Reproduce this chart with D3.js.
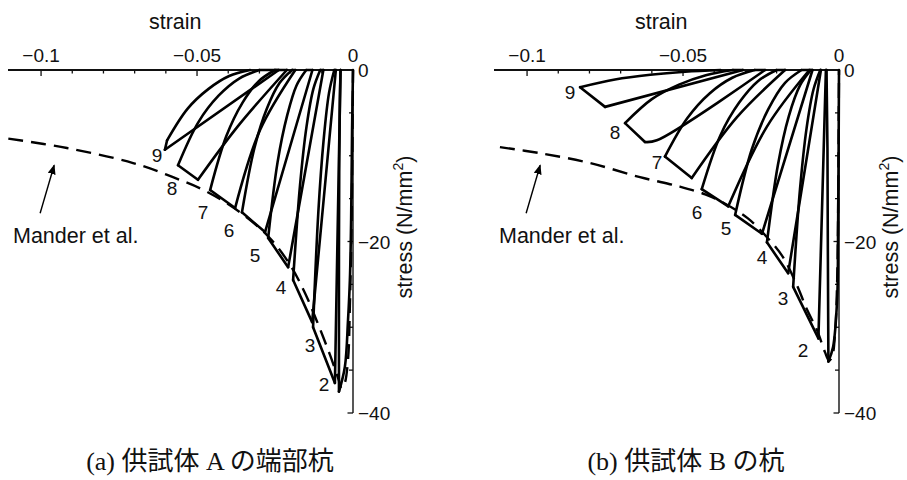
<!DOCTYPE html>
<html>
<head>
<meta charset="utf-8">
<script src="https://cdn.jsdelivr.net/npm/d3@7"></script>
<style>
  body { margin: 0; background: #fff; }
  svg { display: block; }
  text { fill: #111; }
</style>
</head>
<body>
<svg id="chart" width="907" height="480"></svg>
<script>
// ---------- axis ticks ----------
const strainMajor = [-0.1, -0.05, 0];
const strainMajorText = ["\u22120.1", "\u22120.05", "0"];
const strainMinor = [-0.09, -0.08, -0.07, -0.06, -0.04, -0.03, -0.02, -0.01];
const stressMajor = [0, -20, -40];
const stressMajorText = ["0", "\u221220", "\u221240"];
const stressMinor = [-5, -10, -15, -25, -30, -35];
const cycleNumbers = ["2", "3", "4", "5", "6", "7", "8", "9"];
const captions = ["(a) 供試体 A の端部杭", "(b) 供試体 B の杭"];

// ---------- specimen A (end pile) ----------
// Mander et al. confined-concrete model, [strain, stress N/mm2]
const manderA = [[-0.1105,-8.0],[-0.0917,-9.1],[-0.0705,-10.85],[-0.0577,-12.5],[-0.0468,-14.2],
  [-0.0362,-16.6],[-0.0272,-19.4],[-0.0202,-22.7],[-0.0154,-26.0],[-0.0119,-29.0],[-0.0074,-33.2],
  [-0.0048,-35.9],[-0.0036,-37.1],[-0.0027,-36.6],[-0.0016,-33.8],[-0.0010,-27.5],[-0.0004,-16.0],[0,0]];
// first loading up to the first unloading point
const firstLoadA = [[0,0],[-0.0003,-7.0],[-0.0006,-17.5],[-0.0010,-24.5],[-0.0016,-29.2],[-0.0026,-34.6]];
// unloading points of cycles 2..9
const peaksA = [[-0.0045,-37.5],[-0.0128,-30.0],[-0.0192,-24.5],[-0.0272,-19.6],
  [-0.0356,-16.6],[-0.0458,-14.0],[-0.0561,-11.1],[-0.0596,-8.2]];
// reloading end points of cycles 3..9
const valleysA = [[-0.0058,-36.5],[-0.0131,-29.4],[-0.0208,-23.0],[-0.0282,-18.9],
  [-0.0378,-16.1],[-0.0497,-12.8],[-0.0603,-9.3]];
// unloading branches (after each peak), ending at the residual strain
const unloadA = [
  [[-0.0045,-20.6],[-0.0044,-10.1],[-0.0042,-3.4],[-0.0040,0]],
  [[-0.0111,-16.5],[-0.0094,-8.1],[-0.0077,-2.7],[-0.0060,0]],
  [[-0.0170,-13.5],[-0.0149,-6.6],[-0.0127,-2.2],[-0.0105,0]],
  [[-0.0242,-10.8],[-0.0211,-5.3],[-0.0181,-1.8],[-0.0150,0]],
  [[-0.0316,-9.1],[-0.0276,-4.5],[-0.0235,-1.5],[-0.0195,0]],
  [[-0.0406,-7.7],[-0.0354,-3.8],[-0.0302,-1.3],[-0.0250,0]],
  [[-0.0496,-6.1],[-0.0431,-3.0],[-0.0365,-1.0],[-0.0300,0]],
  [[-0.0530,-4.5],[-0.0463,-2.2],[-0.0397,-0.7],[-0.0330,0]]
];
// reloading branches (start on the strain axis, run to the next valley)
const reloadA = [
  [[-0.0040,0]],
  [[-0.0055,0]],
  [[-0.0095,0]],
  [[-0.0130,0]],
  [[-0.0185,0],[-0.0298,-7.0]],
  [[-0.0212,0],[-0.0370,-6.6]],
  [[-0.0238,0]]
];
const labelPosA = [[-0.0093,-36.6],[-0.0138,-32.1],[-0.0231,-25.3],[-0.0314,-21.6],
  [-0.0397,-18.7],[-0.0481,-16.6],[-0.0580,-13.8],[-0.0628,-9.9]];

// ---------- specimen B ----------
const manderB = [[-0.1087,-9.0],[-0.0958,-9.7],[-0.0798,-10.85],[-0.0638,-12.5],[-0.0510,-13.6],
  [-0.0429,-14.5],[-0.0365,-15.6],[-0.0292,-17.3],[-0.0231,-19.5],[-0.0180,-21.8],[-0.0135,-25.1],
  [-0.0103,-27.9],[-0.0071,-30.3],[-0.0045,-32.9],[-0.0032,-33.9],[-0.0022,-33.4],[-0.0012,-30.3],
  [-0.0005,-23.0],[-0.0002,-12.0],[0,0]];
const firstLoadB = [[0,0],[-0.0003,-19.0],[-0.0006,-26.8],[-0.0019,-32.3]];
const peaksB = [[-0.0034,-34.0],[-0.0147,-25.3],[-0.0231,-20.1],[-0.0333,-16.9],
  [-0.0440,-13.9],[-0.0558,-10.1],[-0.0686,-6.2],[-0.0830,-2.0]];
const valleysB = [[-0.0066,-31.3],[-0.0163,-23.7],[-0.0247,-19.1],[-0.0355,-15.9],
  [-0.0472,-12.6],[-0.0622,-8.4],[-0.0750,-4.3]];
const unloadB = [
  [[-0.0036,-18.7],[-0.0037,-9.2],[-0.0039,-3.1],[-0.0040,0]],
  [[-0.0125,-13.9],[-0.0104,-6.8],[-0.0082,-2.3],[-0.0060,0]],
  [[-0.0196,-11.1],[-0.0161,-5.4],[-0.0125,-1.8],[-0.0090,0]],
  [[-0.0280,-9.3],[-0.0227,-4.6],[-0.0173,-1.5],[-0.0120,0]],
  [[-0.0380,-7.6],[-0.0320,-3.8],[-0.0260,-1.3],[-0.0200,0]],
  [[-0.0486,-5.6],[-0.0414,-2.7],[-0.0342,-0.9],[-0.0270,0]],
  [[-0.0600,-3.4],[-0.0513,-1.7],[-0.0427,-0.6],[-0.0340,0]],
  [[-0.0718,-1.1],[-0.0605,-0.55],[-0.0493,-0.2],[-0.0380,0]]
];
const reloadB = [
  [[-0.0042,0]],
  [[-0.0058,0]],
  [[-0.0085,0]],
  [[-0.0095,0],[-0.0231,-6.6]],
  [[-0.0173,0],[-0.0327,-5.5]],
  [[-0.0237,0],[-0.0584,-8.2]],
  [[-0.0308,0]]
];
const labelPosB = [[-0.0115,-32.7],[-0.0179,-26.6],[-0.0247,-21.8],[-0.0362,-18.4],
  [-0.0455,-16.6],[-0.0583,-10.7],[-0.0718,-7.2],[-0.0862,-2.6]];

// annotation for the model curve
const manderText = "Mander et al.";
const manderArrow = [[-0.1003,-16.7],[-0.0958,-11.1]];
const manderTextPos = [-0.1090,-20.2];

// ---------- layout ----------
const strainDomain = [-0.1106, 0];
const stressDomain = [0, -40];
const panels = [
  { origin: 353, mander: manderA, first: firstLoadA, peaks: peaksA, valleys: valleysA,
    unload: unloadA, reload: reloadA, labels: labelPosA, caption: captions[0], captionX: 210 },
  { origin: 839, mander: manderB, first: firstLoadB, peaks: peaksB, valleys: valleysB,
    unload: unloadB, reload: reloadB, labels: labelPosB, caption: captions[1], captionX: 686 }
];

const svg = d3.select("#chart");
const sans = "'Liberation Sans', Arial, Helvetica, sans-serif";

const defs = svg.append("defs");
defs.append("marker")
  .attr("id", "arrowhead")
  .attr("viewBox", "0 0 10 8")
  .attr("refX", 9).attr("refY", 4)
  .attr("markerWidth", 10).attr("markerHeight", 8)
  .attr("markerUnits", "userSpaceOnUse")
  .attr("orient", "auto")
  .append("path").attr("d", "M0,0 L10,4 L0,8 Z").attr("fill", "#000");

panels.forEach(p => {
  const x = d3.scaleLinear().domain(strainDomain).range([p.origin - 345, p.origin]);
  const y = d3.scaleLinear().domain(stressDomain).range([70, 413]);
  const g = svg.append("g");

  // strain axis along the top
  g.append("line")
    .attr("x1", x(strainDomain[0])).attr("x2", x(0))
    .attr("y1", y(0)).attr("y2", y(0))
    .attr("stroke", "#111").attr("stroke-width", 1.8);
  g.selectAll(".xminor").data(strainMinor).join("line")
    .attr("x1", d => x(d)).attr("x2", d => x(d))
    .attr("y1", y(0)).attr("y2", y(0) + 3.5)
    .attr("stroke", "#111").attr("stroke-width", 1.3);
  g.selectAll(".xmajor").data(strainMajor).join("line")
    .attr("x1", d => x(d)).attr("x2", d => x(d))
    .attr("y1", y(0)).attr("y2", y(0) + 6)
    .attr("stroke", "#111").attr("stroke-width", 1.3);
  g.selectAll(".xlab").data(strainMajor).join("text")
    .attr("x", d => x(d)).attr("y", 62)
    .attr("text-anchor", "middle")
    .attr("font-family", sans).attr("font-size", 19)
    .text((d, i) => strainMajorText[i]);
  g.append("text")
    .attr("x", x(-0.057)).attr("y", 29)
    .attr("text-anchor", "middle")
    .attr("font-family", sans).attr("font-size", 21.5)
    .text("strain");

  // stress axis on the right
  g.append("line")
    .attr("x1", x(0)).attr("x2", x(0))
    .attr("y1", y(0)).attr("y2", y(-40))
    .attr("stroke", "#111").attr("stroke-width", 1.4);
  g.selectAll(".yminor").data(stressMinor).join("line")
    .attr("x1", x(0) - 4).attr("x2", x(0))
    .attr("y1", d => y(d)).attr("y2", d => y(d))
    .attr("stroke", "#111").attr("stroke-width", 1.3);
  g.selectAll(".ymajor").data(stressMajor).join("line")
    .attr("x1", x(0) - 5.5).attr("x2", x(0))
    .attr("y1", d => y(d)).attr("y2", d => y(d))
    .attr("stroke", "#111").attr("stroke-width", 1.3);
  g.selectAll(".ylab").data(stressMajor).join("text")
    .attr("x", x(0) + 5).attr("y", d => y(d) + 7)
    .attr("font-family", sans).attr("font-size", 19)
    .text((d, i) => stressMajorText[i]);
  const yt = g.append("text")
    .attr("transform", `translate(${x(0) + 59},227) rotate(-90)`)
    .attr("text-anchor", "middle")
    .attr("font-family", sans).attr("font-size", 21.5);
  yt.append("tspan").text("stress (N/mm");
  yt.append("tspan").attr("font-size", 14).attr("dy", -9).text("2");
  yt.append("tspan").attr("dy", 9).text(")");

  const curve = d3.line().x(d => x(d[0])).y(d => y(d[1])).curve(d3.curveCatmullRom.alpha(0.5));
  const straight = d3.line().x(d => x(d[0])).y(d => y(d[1]));

  // model envelope (dashed)
  g.append("path")
    .attr("d", curve(p.mander))
    .attr("fill", "none").attr("stroke", "#000")
    .attr("stroke-width", 2.4).attr("stroke-dasharray", "15,8");

  // measured hysteresis loops
  const solid = [];
  solid.push({ pts: p.first.concat([p.peaks[0]]), c: curve });
  p.peaks.forEach((pk, i) => {
    const un = p.unload[i];
    solid.push({ pts: [pk].concat(un), c: curve });
    if (i < p.valleys.length) {
      const rl = p.reload[i];
      solid.push({ pts: [un[un.length - 1], rl[0]], c: straight });
      solid.push({ pts: rl.concat([p.valleys[i]]), c: curve });
      solid.push({ pts: [p.valleys[i], p.peaks[i + 1]], c: straight });
    }
  });
  g.selectAll(".loop").data(solid).join("path")
    .attr("d", d => d.c(d.pts))
    .attr("fill", "none").attr("stroke", "#000")
    .attr("stroke-width", 2.6)
    .attr("stroke-linejoin", "round").attr("stroke-linecap", "round");

  // cycle numbers
  g.selectAll(".cyc").data(p.labels).join("text")
    .attr("x", d => x(d[0])).attr("y", d => y(d[1]) + 7)
    .attr("text-anchor", "middle")
    .attr("font-family", sans).attr("font-size", 19)
    .text((d, i) => cycleNumbers[i]);

  // model annotation
  g.append("line")
    .attr("x1", x(manderArrow[0][0])).attr("y1", y(manderArrow[0][1]))
    .attr("x2", x(manderArrow[1][0])).attr("y2", y(manderArrow[1][1]))
    .attr("stroke", "#000").attr("stroke-width", 1.4)
    .attr("marker-end", "url(#arrowhead)");
  g.append("text")
    .attr("x", x(manderTextPos[0])).attr("y", y(manderTextPos[1]))
    .attr("font-family", sans).attr("font-size", 21.5)
    .text(manderText);

  // caption
  g.append("text")
    .attr("x", p.captionX).attr("y", 470)
    .attr("text-anchor", "middle")
    .attr("font-family", "'Liberation Serif', 'DejaVu Serif', 'Noto Sans CJK JP', serif")
    .attr("font-size", 26)
    .text(p.caption);
});
</script>
</body>
</html>
